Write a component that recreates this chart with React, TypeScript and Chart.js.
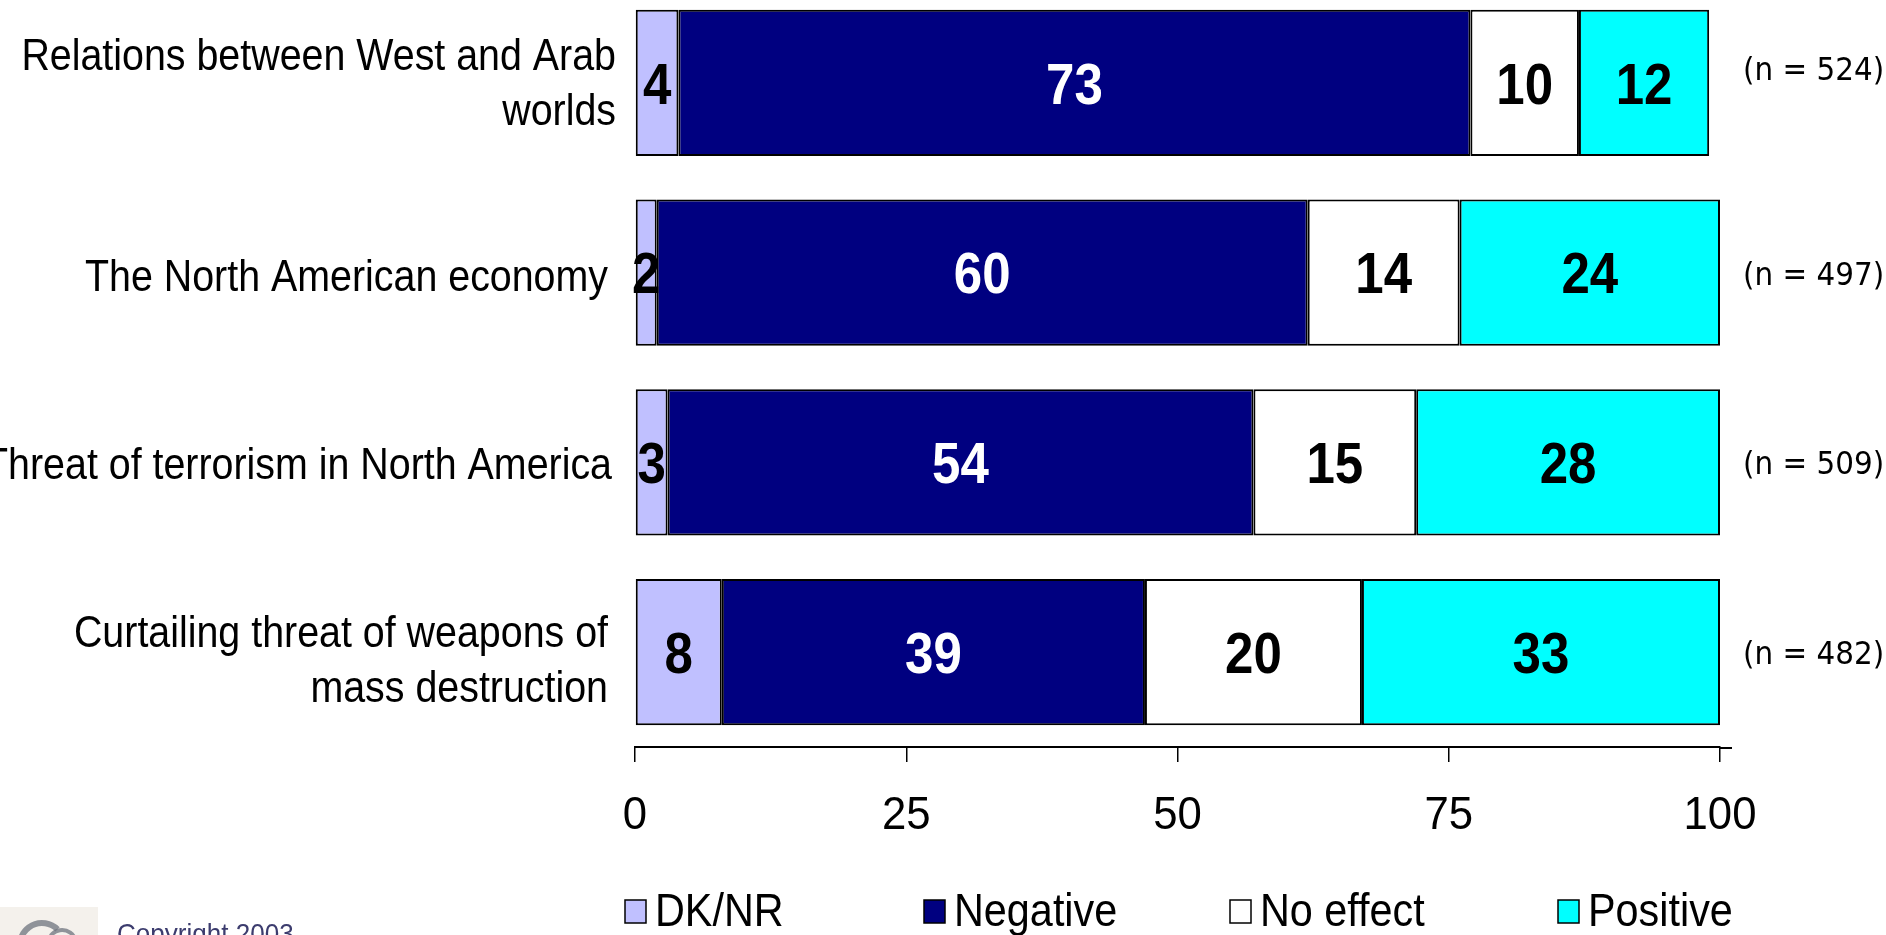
import React, { useEffect, useRef } from 'react';
import { Chart, registerables } from 'chart.js';

Chart.register(...registerables);

const categories: string[][] = [
  ['Relations between West and Arab', 'worlds'],
  ['The North American economy'],
  ['Threat of terrorism in North America'],
  ['Curtailing threat of weapons of', 'mass destruction'],
];
const dkNr = [4, 2, 3, 8];
const negative = [73, 60, 54, 39];
const noEffect = [10, 14, 15, 20];
const positive = [12, 24, 28, 33];
const sampleSizes = [524, 497, 509, 482];
const xTickValues = [0, 25, 50, 75, 100];
const seriesNames = ['DK/NR', 'Negative', 'No effect', 'Positive'];
const seriesColors = ['#c0c0ff', '#000080', '#ffffff', '#00ffff'];
const valueTextColors = ['#000000', '#ffffff', '#000000', '#000000'];
const copyrightText = 'Copyright 2003';

const SANS = "'Liberation Sans', Arial, sans-serif";
const WIDE = "'DejaVu Sans', Verdana, sans-serif";

const W = 1886;
const H = 935;
const SHIFT = 12; // canvas is raised so the first category band may start above the page

type TextOpts = { size: number; bold?: boolean; family?: string; sx?: number; align?: CanvasTextAlign; color?: string };

function drawText(ctx: CanvasRenderingContext2D, text: string, x: number, y: number, o: TextOpts) {
  ctx.save();
  ctx.font = `${o.bold ? 'bold ' : ''}${o.size}px ${o.family || SANS}`;
  ctx.fillStyle = o.color || '#000000';
  ctx.textAlign = o.align || 'left';
  ctx.textBaseline = 'alphabetic';
  ctx.translate(x, y);
  ctx.scale(o.sx ?? 0.93, 1);
  ctx.fillText(text, 0, 0);
  ctx.restore();
}

export default function App() {
  const ref = useRef<HTMLCanvasElement | null>(null);

  useEffect(() => {
    const canvas = ref.current;
    if (!canvas) return;
    const seriesData = [dkNr, negative, noEffect, positive];

    const valueLabels = {
      id: 'valueLabels',
      afterDatasetsDraw(chart: any) {
        const ctx = chart.ctx;
        const fs = 58;
        chart.data.datasets.forEach((ds: any, i: number) => {
          const meta = chart.getDatasetMeta(i);
          meta.data.forEach((el: any, j: number) => {
            const p = el.getProps(['x', 'base', 'y'], true);
            drawText(ctx, String(ds.data[j]), (p.x + p.base) / 2, p.y + fs * 0.358, {
              size: fs, bold: true, sx: 0.88, align: 'center', color: valueTextColors[i],
            });
          });
        });
      },
    };

    const axisText = {
      id: 'axisText',
      afterDraw(chart: any) {
        const ctx = chart.ctx;
        const area = chart.chartArea;
        const yScale = chart.scales.y;
        const xScale = chart.scales.x;

        // category labels
        const cfs = 45;
        const lineGap = 55;
        const labelShift = [-1, 2, 1, 6];
        const labelGap = [19, 27, 23, 27];
        categories.forEach((lines, i) => {
          const cy = yScale.getPixelForValue(i) + labelShift[i];
          const first = cy - ((lines.length - 1) * lineGap) / 2;
          lines.forEach((line, k) => {
            drawText(ctx, line, area.left - labelGap[i], first + k * lineGap + cfs * 0.358, { size: cfs, sx: 0.875, align: 'right' });
          });
        });

        // x tick labels
        xTickValues.forEach((v) => {
          drawText(ctx, String(v), xScale.getPixelForValue(v), 829 + SHIFT, { size: 46, sx: 0.95, align: 'center' });
        });

        // axis line overhang past 100
        ctx.save();
        ctx.strokeStyle = '#000000';
        ctx.lineWidth = 2;
        ctx.beginPath();
        ctx.moveTo(area.right, area.bottom + 1);
        ctx.lineTo(area.right + 12, area.bottom + 1);
        ctx.stroke();
        ctx.restore();

        // sample sizes
        const nOffsets = [-15, 0, 0, 0];
        sampleSizes.forEach((n, i) => {
          const y = yScale.getPixelForValue(i) + nOffsets[i];
          drawText(ctx, `(n = ${n})`, area.right + 23, y + 12, { size: 32, family: WIDE, sx: 0.92 });
        });

        // legend
        const legendX = [625, 924, 1230, 1558];
        seriesNames.forEach((name, i) => {
          const x = legendX[i];
          ctx.save();
          ctx.fillStyle = seriesColors[i];
          ctx.fillRect(x, 900 + SHIFT, 21, 23);
          ctx.strokeStyle = '#000000';
          ctx.lineWidth = 1.5;
          ctx.strokeRect(x, 900 + SHIFT, 21, 23);
          ctx.restore();
          drawText(ctx, name, x + 30, 926 + SHIFT, { size: 47, sx: 0.88 });
        });

        // logo + copyright
        ctx.save();
        ctx.fillStyle = '#f4f1ec';
        ctx.fillRect(0, 907 + SHIFT, 98, 28);
        ctx.strokeStyle = 'rgba(110,115,125,0.75)';
        ctx.lineWidth = 6;
        ctx.beginPath();
        ctx.arc(42, 945 + SHIFT, 22, Math.PI * 1.05, Math.PI * 1.75);
        ctx.stroke();
        ctx.lineWidth = 4;
        ctx.beginPath();
        ctx.arc(62, 944 + SHIFT, 14, Math.PI * 1.2, Math.PI * 1.9);
        ctx.stroke();
        ctx.restore();
        drawText(ctx, copyrightText, 117, 943 + SHIFT, { size: 28, color: '#3c3c6e' });
      },
    };

    const chart = new Chart(canvas, {
      type: 'bar',
      data: {
        labels: categories,
        datasets: seriesNames.map((name, i) => ({
          label: name,
          data: seriesData[i],
          backgroundColor: seriesColors[i],
          borderColor: '#000000',
          borderWidth: 2,
          borderSkipped: false,
          barPercentage: 0.77,
          categoryPercentage: 1,
        })),
      },
      options: {
        indexAxis: 'y',
        responsive: false,
        animation: false,
        maintainAspectRatio: false,
        layout: { padding: { top: 0, right: 166, bottom: 0, left: 0 } },
        plugins: {
          legend: { display: false },
          tooltip: { enabled: false },
        },
        scales: {
          x: {
            type: 'linear',
            stacked: true,
            min: 0,
            max: 100,
            afterBuildTicks: (axis: any) => {
              axis.ticks = xTickValues.map((v) => ({ value: v }));
            },
            afterFit: (scale: any) => {
              scale.height = 188;
            },
            grid: {
              drawOnChartArea: false,
              drawTicks: true,
              tickLength: 15,
              color: '#000000',
              lineWidth: 1.5,
            },
            border: { display: true, color: '#000000', width: 2 },
            ticks: { display: false },
          },
          y: {
            type: 'category',
            stacked: true,
            afterFit: (scale: any) => {
              scale.width = 635;
            },
            grid: { display: false, drawTicks: false },
            border: { display: false },
            ticks: { display: false },
          },
        },
      },
      plugins: [valueLabels, axisText],
    });
    return () => chart.destroy();
  }, []);

  return (
    <div style={{ position: 'fixed', left: 0, top: 0, width: W, height: H, overflow: 'hidden', background: '#ffffff' }}>
      <canvas
        ref={ref}
        width={W}
        height={H + SHIFT}
        style={{ display: 'block', position: 'absolute', left: 0, top: -SHIFT, width: W, height: H + SHIFT }}
      />
    </div>
  );
}
